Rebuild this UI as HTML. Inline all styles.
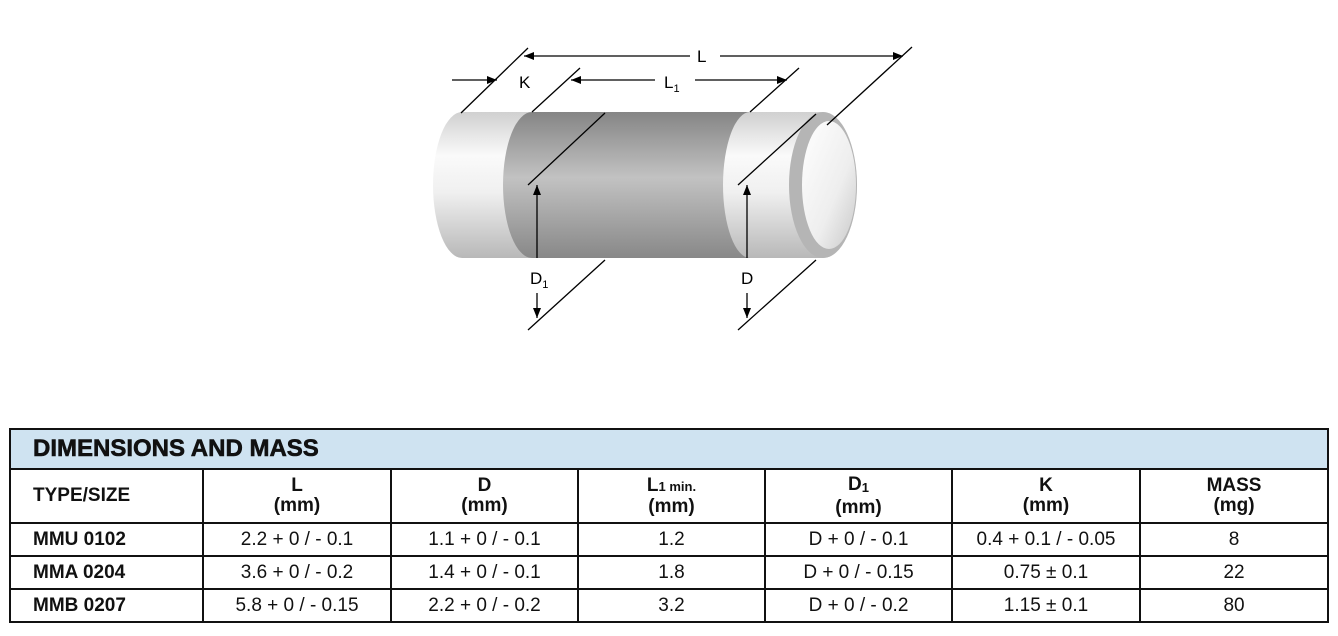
<!DOCTYPE html>
<html><head><meta charset="utf-8"><style>
body{margin:0;width:1338px;height:636px;background:#fff;position:relative;font-family:"Liberation Sans",Arial,sans-serif;overflow:hidden}
svg{position:absolute;left:0;top:0}
table{position:absolute;left:9px;top:428px;width:1318px;border-collapse:collapse;table-layout:fixed}
td{border:2px solid #111;text-align:center;font-size:19px;color:#111;padding:0;line-height:20px}
td.t{background:#cfe3f1;text-align:left;font-weight:900;font-size:24px;padding-left:22px;height:38px;-webkit-text-stroke:0.6px #111}
tr.h td{font-weight:bold;height:52px;font-size:19px}
tr.r td{height:31px}
td.l{text-align:left;padding-left:22px;font-weight:bold}
sub{font-size:13px;vertical-align:-2px}
</style></head><body>
<svg width="1338" height="420" viewBox="0 0 1338 420">
<defs>
<linearGradient id="cap" x1="0" y1="0" x2="0" y2="1">
<stop offset="0" stop-color="#d0d0d0"/><stop offset="0.3" stop-color="#fafafa"/><stop offset="0.55" stop-color="#f0f0f0"/><stop offset="1" stop-color="#b8b8b8"/></linearGradient>
<linearGradient id="band" x1="0" y1="0" x2="0" y2="1">
<stop offset="0" stop-color="#858585"/><stop offset="0.45" stop-color="#c2c2c2"/><stop offset="1" stop-color="#888"/></linearGradient>
<linearGradient id="face" x1="0" y1="0" x2="1" y2="1">
<stop offset="0" stop-color="#fff"/><stop offset="0.6" stop-color="#eee"/><stop offset="1" stop-color="#c8c8c8"/></linearGradient>
<marker id="a" markerWidth="10" markerHeight="8" refX="10" refY="4" orient="auto" markerUnits="userSpaceOnUse"><path d="M0,0 L10,4 L0,8 z" fill="#000"/></marker>
</defs>
<path d="M462,112 L823,112 A34,73 0 0 1 823,258 L462,258 A29,73 0 0 1 462,112 Z" fill="url(#cap)"/>
<path d="M532,112 L750,112 A27,73 0 0 0 750,258 L532,258 A29,73 0 0 1 532,112 Z" fill="url(#band)"/>
<ellipse cx="823" cy="185" rx="34" ry="73" fill="#b5b5b5"/>
<ellipse cx="829" cy="185" rx="27" ry="64" fill="url(#face)"/>
<g stroke="#000" stroke-width="1.3" fill="none">
<line x1="461" y1="113" x2="528" y2="48"/>
<line x1="827" y1="125" x2="912" y2="47"/>
<line x1="532" y1="112" x2="580" y2="68"/>
<line x1="750" y1="112" x2="799" y2="68"/>
<line x1="528" y1="185" x2="605" y2="113"/>
<line x1="738" y1="185" x2="816" y2="114"/>
<line x1="528" y1="330" x2="605" y2="260"/>
<line x1="738" y1="330" x2="816" y2="260"/>
<line x1="690" y1="56" x2="524" y2="56" marker-end="url(#a)"/>
<line x1="720" y1="56" x2="903" y2="56" marker-end="url(#a)"/>
<line x1="452" y1="80" x2="497" y2="80" marker-end="url(#a)"/>
<line x1="655" y1="80" x2="571" y2="80" marker-end="url(#a)"/>
<line x1="695" y1="80" x2="787" y2="80" marker-end="url(#a)"/>
<line x1="537" y1="258" x2="537" y2="185" marker-end="url(#a)"/>
<line x1="537" y1="293" x2="537" y2="318" marker-end="url(#a)"/>
<line x1="747" y1="258" x2="747" y2="185" marker-end="url(#a)"/>
<line x1="747" y1="293" x2="747" y2="318" marker-end="url(#a)"/>
</g>
<g font-family="Liberation Sans,Arial,sans-serif" font-size="17" fill="#000">
<text x="697" y="62">L</text>
<text x="519" y="88">K</text>
<text x="664" y="88">L<tspan font-size="11" dy="4">1</tspan></text>
<text x="530" y="284">D<tspan font-size="11" dy="4">1</tspan></text>
<text x="741" y="284">D</text>
</g>
</svg>
<table>
<colgroup><col style="width:193px"><col style="width:188px"><col style="width:187px"><col style="width:187px"><col style="width:187px"><col style="width:188px"><col style="width:188px"></colgroup>
<tr><td class="t" colspan="7">DIMENSIONS AND MASS</td></tr>
<tr class="h"><td class="l">TYPE/SIZE</td><td>L<br>(mm)</td><td>D<br>(mm)</td><td>L<span style="font-size:13px">1 min.</span><br>(mm)</td><td>D<sub>1</sub><br>(mm)</td><td>K<br>(mm)</td><td>MASS<br>(mg)</td></tr>
<tr class="r"><td class="l">MMU 0102</td><td>2.2 + 0 / - 0.1</td><td>1.1 + 0 / - 0.1</td><td>1.2</td><td>D + 0 / - 0.1</td><td>0.4 + 0.1 / - 0.05</td><td>8</td></tr>
<tr class="r"><td class="l">MMA 0204</td><td>3.6 + 0 / - 0.2</td><td>1.4 + 0 / - 0.1</td><td>1.8</td><td>D + 0 / - 0.15</td><td>0.75 ± 0.1</td><td>22</td></tr>
<tr class="r"><td class="l">MMB 0207</td><td>5.8 + 0 / - 0.15</td><td>2.2 + 0 / - 0.2</td><td>3.2</td><td>D + 0 / - 0.2</td><td>1.15 ± 0.1</td><td>80</td></tr>
</table>
</body></html>
